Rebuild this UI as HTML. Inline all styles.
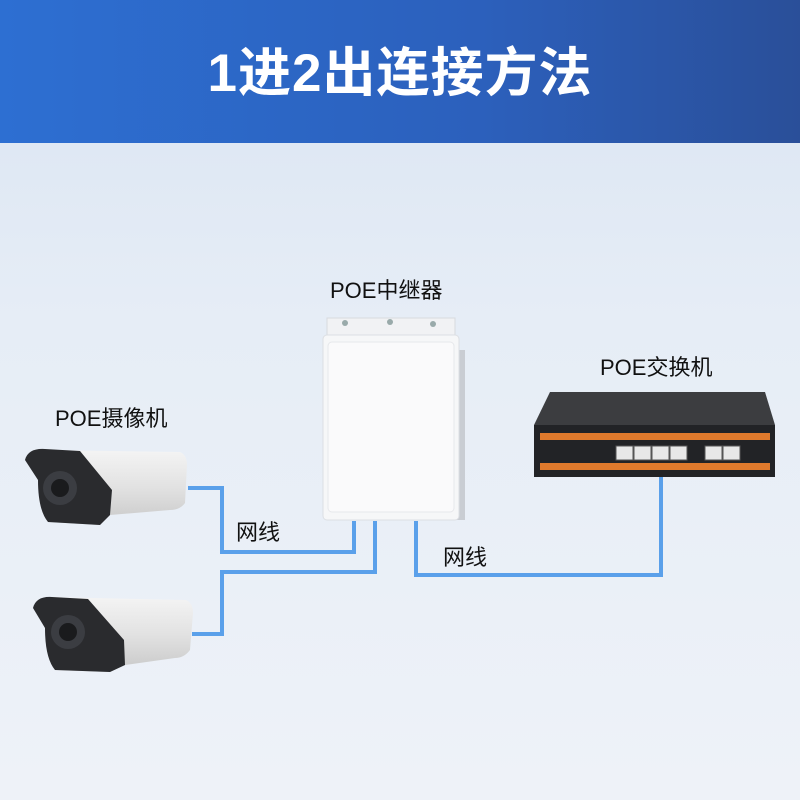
<!DOCTYPE html>
<html><head><meta charset="utf-8"><style>
html,body{margin:0;padding:0}
body{width:800px;height:800px;position:relative;overflow:hidden;background:linear-gradient(180deg,#d9e4f2 0%,#e6edf6 40%,#eef2f8 100%);font-family:"Liberation Sans","Noto Sans CJK SC",sans-serif}
.hdr{position:absolute;left:0;top:0;width:800px;height:143px;background:linear-gradient(90deg,#2d6fd2 0%,#2c60bc 60%,#2a4f99 100%)}
.hdr div{position:absolute;left:0;right:0;top:42px;text-align:center;color:#fff;font-size:53px;font-weight:700;letter-spacing:1px;line-height:64px}
.lbl{position:absolute;font-size:22px;color:#111;line-height:26px;white-space:nowrap}
svg{position:absolute;left:0;top:0}
</style></head><body>
<div class="hdr"><div>1进2出连接方法</div></div>
<div class="lbl" style="left:330px;top:278px">POE中继器</div>
<div class="lbl" style="left:600px;top:355px">POE交换机</div>
<div class="lbl" style="left:55px;top:406px">POE摄像机</div>
<div class="lbl" style="left:236px;top:520px">网线</div>
<div class="lbl" style="left:443px;top:545px">网线</div>
<svg width="800" height="800">
<defs>
<linearGradient id="cam" x1="0" y1="0" x2="0" y2="1"><stop offset="0" stop-color="#f4f4f4"/><stop offset="0.5" stop-color="#e2e2e2"/><stop offset="1" stop-color="#c8c8c8"/></linearGradient>
</defs>
<g fill="none" stroke="#5aa0ea" stroke-width="4">
<polyline points="188,488 222,488 222,552 354,552 354,521"/>
<polyline points="192,634 222,634 222,572 375,572 375,521"/>
<polyline points="416,521 416,575 661,575 661,470"/>
</g>
<rect x="455" y="350" width="10" height="170" fill="#c9cdd3"/>
<path d="M327,318 L455,318 L455,345 L327,345 Z" fill="#f1f2f4" stroke="#d8dade"/>
<circle cx="345" cy="323" r="3" fill="#9aa"/><circle cx="390" cy="322" r="3" fill="#9aa"/><circle cx="433" cy="324" r="3" fill="#9aa"/>
<rect x="323" y="335" width="136" height="185" rx="4" fill="#f6f7f8" stroke="#dcdfe3"/>
<rect x="328" y="342" width="126" height="170" rx="4" fill="#fafafb" stroke="#e6e8eb"/>
<polygon points="550,392 765,392 775,425 534,425" fill="#3c3d40"/>
<rect x="534" y="425" width="241" height="52" fill="#222326"/>
<rect x="540" y="433" width="230" height="7" fill="#e07a2c"/>
<rect x="540" y="463" width="230" height="7" fill="#e07a2c"/>
<g fill="#e8e8e8" stroke="#555">
<rect x="616" y="446" width="17" height="14"/><rect x="634" y="446" width="17" height="14"/><rect x="652" y="446" width="17" height="14"/><rect x="670" y="446" width="17" height="14"/>
<rect x="705" y="446" width="17" height="14"/><rect x="723" y="446" width="17" height="14"/>
</g>
<path d="M40,450 L180,452 Q187,455 187,465 L185,503 Q180,510 170,510 L110,515 L100,525 L48,522 Z" fill="url(#cam)"/>
<path d="M25,460 Q28,448 45,449 L80,451 L112,490 L110,515 L100,525 L48,522 Q38,510 38,480 Z" fill="#2a2b2e"/>
<circle cx="60" cy="488" r="17" fill="#3b3d42"/><circle cx="60" cy="488" r="9" fill="#1a1b1d"/>
<path d="M48,597 L186,600 Q193,603 193,613 L190,650 Q184,658 175,658 L125,665 L110,672 L55,670 Z" fill="url(#cam)"/>
<path d="M33,608 Q36,596 52,597 L88,599 L124,640 L125,665 L110,672 L55,670 Q45,658 45,628 Z" fill="#2a2b2e"/>
<circle cx="68" cy="632" r="17" fill="#3b3d42"/><circle cx="68" cy="632" r="9" fill="#1a1b1d"/>
</svg>
</body></html>
